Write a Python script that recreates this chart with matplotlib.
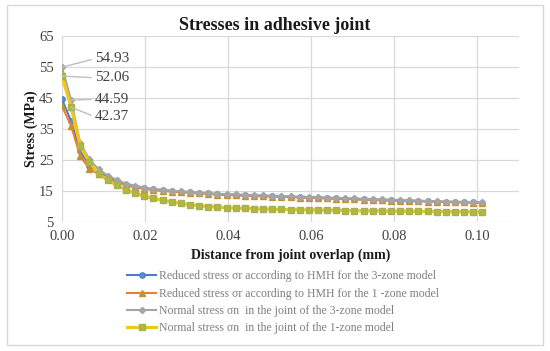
import matplotlib
matplotlib.use("Agg")
import matplotlib.pyplot as plt
import matplotlib.patches as mpatches
from matplotlib.ticker import FormatStrFormatter

plt.rcParams['font.family'] = ['Liberation Serif', 'DejaVu Serif']

# distance from joint overlap (mm)
distance = [round(i * 0.0022, 4) for i in range(47)]

red_3zone = [44.59, 37.5, 27.8, 23.2, 21.0, 19.4, 18.2, 17.0, 16.4, 15.9,
             15.5, 15.2, 15.0, 14.8, 14.6, 14.4, 14.2, 14.0, 13.85, 13.7,
             13.6, 13.5, 13.4, 13.3, 13.2, 13.1, 13.0, 12.9, 12.8, 12.7,
             12.6, 12.5, 12.4, 12.3, 12.2, 12.1, 12.0, 11.9, 11.85, 11.8,
             11.7, 11.6, 11.5, 11.45, 11.4, 11.3, 11.25]
red_1zone = [42.37, 36.0, 26.2, 22.2, 20.4, 19.0, 17.9, 16.8, 16.2, 15.7,
             15.3, 15.0, 14.8, 14.6, 14.4, 14.2, 14.0, 13.8, 13.7, 13.6,
             13.5, 13.4, 13.3, 13.2, 13.1, 13.0, 12.9, 12.8, 12.7, 12.6,
             12.5, 12.4, 12.3, 12.2, 12.1, 12.0, 11.9, 11.8, 11.7, 11.65,
             11.6, 11.5, 11.4, 11.35, 11.3, 11.2, 11.15]
norm_3zone = [54.93, 44.3, 30.4, 25.2, 22.0, 20.0, 18.6, 17.4, 16.7, 16.1,
              15.7, 15.4, 15.1, 14.9, 14.7, 14.5, 14.3, 14.1, 14.0, 13.9,
              13.8, 13.7, 13.6, 13.5, 13.4, 13.3, 13.2, 13.1, 13.0, 12.9,
              12.8, 12.7, 12.6, 12.5, 12.4, 12.3, 12.2, 12.1, 12.0, 11.9,
              11.8, 11.7, 11.6, 11.55, 11.5, 11.4, 11.35]
norm_1zone = [52.06, 42.0, 29.5, 24.3, 20.6, 18.5, 16.8, 15.4, 14.3, 13.4,
              12.6, 12.0, 11.5, 11.0, 10.6, 10.3, 10.0, 9.8, 9.6, 9.5,
              9.4, 9.3, 9.2, 9.1, 9.05, 9.0, 8.95, 8.9, 8.85, 8.8,
              8.75, 8.7, 8.65, 8.6, 8.6, 8.55, 8.5, 8.5, 8.45, 8.4,
              8.4, 8.35, 8.35, 8.3, 8.3, 8.25, 8.25]

labels = ['Reduced stress σr according to HMH for the 3-zone model',
          'Reduced stress σr according to HMH for the 1 -zone model',
          'Normal stress σn  in the joint of the 3-zone model',
          'Normal stress σn  in the joint of the 1-zone model']

fig = plt.figure(figsize=(5.5, 3.51), dpi=100)
ax = fig.add_axes([0.1127, 0.3675, 0.831, 0.53])

fig.patches.append(mpatches.Rectangle((0.012, 0.017), 0.975, 0.968, transform=fig.transFigure,
                                      facecolor='none', edgecolor='#d9d9d9', linewidth=1.0))

l1, = ax.plot(distance, red_3zone, color='#4a7ec8', lw=1.5, marker='o', ms=3.8,
              markerfacecolor='#5a8fd8', markeredgecolor='#4a7ec8', label=labels[0], zorder=3)
l2, = ax.plot(distance, red_1zone, color='#ed7d31', lw=1.5, marker='^', ms=3.8,
              markerfacecolor='#c8902c', markeredgecolor='#c8902c', label=labels[1], zorder=4)
l3, = ax.plot(distance, norm_3zone, color='#a5a5a5', lw=1.5, marker='D', ms=3.2,
              markerfacecolor='#a5a5a5', markeredgecolor='#a5a5a5', label=labels[2], zorder=5)
l4, = ax.plot(distance, norm_1zone, color='#f0c818', lw=2.3, marker='s', ms=3.8,
              markerfacecolor='#b0b840', markeredgecolor='#a8b050', label=labels[3], zorder=6)

ax.set_xlim(0, 0.11)
ax.set_ylim(5, 65)
ax.set_xticks([0, 0.02, 0.04, 0.06, 0.08, 0.10])
ax.set_yticks(range(5, 66, 10))
ax.xaxis.set_major_formatter(FormatStrFormatter('%.2f'))
ax.grid(True, color='#d9d9d9', lw=0.9)
ax.set_axisbelow(True)
for s in ax.spines.values():
    s.set_visible(False)
ax.tick_params(length=0, labelsize=10.5, colors='#404040', pad=6)

# data labels with leader lines
ann = [('54.93', 0, norm_3zone[0], 57.7),
       ('52.06', 0, norm_1zone[0], 51.5),
       ('44.59', 1, norm_3zone[1], 44.6),
       ('42.37', 1, norm_1zone[1], 38.9)]
for txt, idx, yv, ty in ann:
    ax.annotate(txt, xy=(distance[idx], yv), xytext=(0.0080, ty), fontsize=11, color='#404040',
                va='center', ha='left',
                arrowprops=dict(arrowstyle='-', color='#bfbfbf', lw=1.0, relpos=(0, 0.5),
                                shrinkA=1, shrinkB=0), zorder=7)

fig.text(0.5, 0.928, 'Stresses in adhesive joint', fontsize=13, fontweight='bold',
         color='#1a1a1a', ha='center', va='center')
ax.set_ylabel('Stress (MPa)', fontsize=10, fontweight='bold', color='#1a1a1a', labelpad=1)
ax.set_xlabel('Distance from joint overlap (mm)', fontsize=10, fontweight='bold', color='#1a1a1a',
              labelpad=4)

leg = fig.legend(handles=[l1, l2, l3, l4], loc='upper left', bbox_to_anchor=(0.222, 0.243),
                 frameon=False, fontsize=8.5, labelspacing=0.45, handlelength=2.5, handletextpad=0.25,
                 borderaxespad=0)
for t in leg.get_texts():
    t.set_color('#7f7f7f')

fig.savefig('out.png', dpi=100)
